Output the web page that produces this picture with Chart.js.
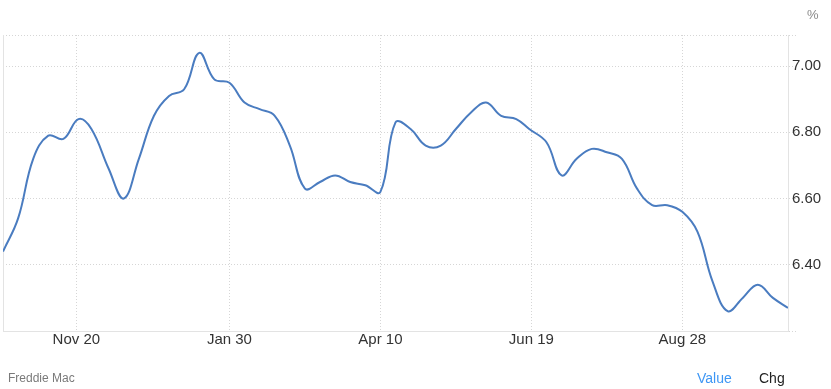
<!DOCTYPE html>
<html>
<head>
<meta charset="utf-8">
<script src="https://cdn.jsdelivr.net/npm/chart.js@4.4.1/dist/chart.umd.min.js"></script>
<style>
    body { margin: 0; background: #fff; font-family: 'Liberation Sans', Arial, sans-serif; }
    #wrap { position: relative; width: 831px; height: 389px; }
    .note { position: absolute; white-space: nowrap; }
</style>
</head>
<body>
<div id="wrap">
    <canvas id="rate-chart" width="831" height="389"></canvas>
    <div class="note" style="left:807px; top:7px; font-size:13px; color:#8a8a8a;">%</div>
    <div class="note" style="left:8px; top:371px; font-size:12px; color:#7a7a7a;">Freddie Mac</div>
    <div class="note" style="left:697px; top:370px; font-size:14px; color:#3e97f5;">Value</div>
    <div class="note" style="left:759px; top:370px; font-size:14px; color:#222;">Chg</div>
</div>
<script>
// weekly 30-year fixed rate
const dates = [
    '2024-10-17', '2024-10-24', '2024-10-31', '2024-11-07', '2024-11-14', '2024-11-21', '2024-11-27',
    '2024-12-05', '2024-12-12', '2024-12-19', '2024-12-26', '2025-01-02', '2025-01-09', '2025-01-16',
    '2025-01-23', '2025-01-30', '2025-02-06', '2025-02-13', '2025-02-20', '2025-02-27', '2025-03-06',
    '2025-03-13', '2025-03-20', '2025-03-27', '2025-04-03', '2025-04-10', '2025-04-17', '2025-04-24',
    '2025-05-01', '2025-05-08', '2025-05-15', '2025-05-22', '2025-05-29', '2025-06-05', '2025-06-12',
    '2025-06-18', '2025-06-26', '2025-07-03', '2025-07-10', '2025-07-17', '2025-07-24', '2025-07-31',
    '2025-08-07', '2025-08-14', '2025-08-21', '2025-08-28', '2025-09-04', '2025-09-11', '2025-09-18',
    '2025-09-25', '2025-10-02', '2025-10-09', '2025-10-16'
];
const rates = [
    6.44, 6.54, 6.72, 6.79, 6.78, 6.84, 6.81,
    6.69, 6.60, 6.72, 6.85, 6.91, 6.93, 7.04,
    6.96, 6.95, 6.89, 6.87, 6.85, 6.76, 6.63,
    6.65, 6.67, 6.65, 6.64, 6.62, 6.83, 6.81,
    6.76, 6.76, 6.81, 6.86, 6.89, 6.85, 6.84,
    6.81, 6.77, 6.67, 6.72, 6.75, 6.74, 6.72,
    6.63, 6.58, 6.58, 6.56, 6.50, 6.35, 6.26,
    6.30, 6.34, 6.30, 6.27
];
const tickDates = ['2024-11-20', '2025-01-30', '2025-04-10', '2025-06-19', '2025-08-28'];
const tickLabels = ['Nov 20', 'Jan 30', 'Apr 10', 'Jun 19', 'Aug 28'];
const yTicks = [6.4, 6.6, 6.8, 7.0];

document.addEventListener('DOMContentLoaded', () => {
    const ctx = document.getElementById('rate-chart').getContext('2d');
    const start = Date.parse(dates[0]);
    const dayOf = d => Math.round((Date.parse(d) - start) / 86400000);

    const points = dates.map((d, i) => ({ x: dayOf(d), y: rates[i] }));
    const tickDays = tickDates.map(dayOf);

    const gridColor = '#d6d6d6';
    const lineColor = '#e3e3e3';

    new Chart(ctx, {
        type: 'line',
        data: {
            datasets: [{
                data: points,
                borderColor: '#4a7cc0',
                borderWidth: 2,
                pointRadius: 0,
                tension: 0.4,
                fill: false,
                yAxisID: 'y'
            }]
        },
        options: {
            responsive: false,
            animation: false,
            devicePixelRatio: 1,
            layout: { padding: { top: 35, left: 3, right: 0, bottom: 34 } },
            plugins: { legend: { display: false }, tooltip: { enabled: false } },
            scales: {
                x: {
                    type: 'linear',
                    min: 0,
                    max: dayOf(dates[dates.length - 1]),
                    afterBuildTicks: scale => {
                        scale.ticks = tickDays.map(v => ({ value: v }));
                    },
                    afterFit: scale => { scale.height = 24; },
                    ticks: {
                        autoSkip: false,
                        maxRotation: 0,
                        padding: 0,
                        color: '#333',
                        font: { family: 'Liberation Sans', size: 15 },
                        callback: (v) => tickLabels[tickDays.indexOf(v)] || ''
                    },
                    grid: { color: gridColor, drawTicks: false },
                    border: { color: lineColor, dash: [1, 2] }
                },
                y: {
                    position: 'right',
                    min: 6.2,
                    max: 7.094,
                    afterBuildTicks: scale => {
                        scale.ticks = [6.2].concat(yTicks, [7.094]).map(v => ({ value: v }));
                    },
                    afterFit: scale => { scale.width = 43; },
                    ticks: {
                        padding: -6,
                        color: '#333',
                        font: { family: 'Liberation Sans', size: 15 },
                        callback: (v) => yTicks.some(t => Math.abs(t - v) < 1e-6) ? v.toFixed(2) : ''
                    },
                    grid: { color: gridColor, tickLength: 10, tickColor: gridColor, tickBorderDash: [1, 2] },
                    border: { color: lineColor, dash: [1, 2] }
                },
                left: {
                    position: 'left',
                    min: 6.2,
                    max: 7.094,
                    afterFit: scale => { scale.width = 0; },
                    ticks: { display: false },
                    grid: { display: false },
                    border: { display: true, color: lineColor }
                }
            }
        }
    });
});
</script>
</body>
</html>
